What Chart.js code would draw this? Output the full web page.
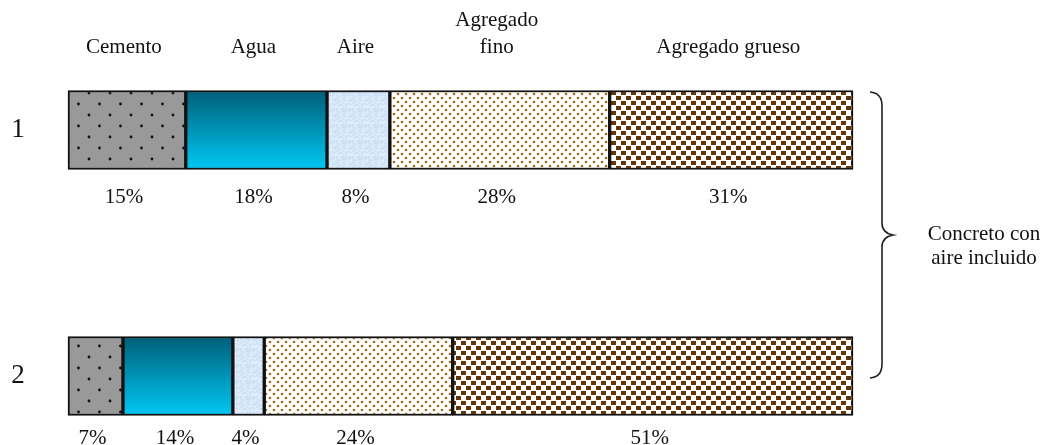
<!DOCTYPE html>
<html lang="es">
<head>
    <meta charset="UTF-8">
    <title>Concreto con aire incluido</title>
    <script src="https://cdn.jsdelivr.net/npm/chart.js"></script>
    <style>
        body { margin: 0; background: #fff; }
        #wrap { width: 1045px; height: 445px; position: relative; }
    </style>
</head>
<body>
    <div id="wrap"><canvas id="mixChart"></canvas></div>

    <script>
        // rows (mezclas) and the components of each, in % by volume
        const mezclas = ['1', '2'];
        const componentes = ['Cemento', 'Agua', 'Aire', 'Agregado fino', 'Agregado grueso'];
        const cabeceras = [['Cemento'], ['Agua'], ['Aire'], ['Agregado', 'fino'], ['Agregado grueso']];
        const cemento = [15, 7];
        const agua = [18, 14];
        const aire = [8, 4];
        const agregadoFino = [28, 24];
        const agregadoGrueso = [31, 51];
        const braceLabel = ['Concreto con', 'aire incluido'];

        const FONT = '"Liberation Serif", "Times New Roman", serif';

        function makeTile(w, h, draw) {
            const c = document.createElement('canvas');
            c.width = w; c.height = h;
            const g = c.getContext('2d');
            draw(g);
            return document.createElement('canvas').getContext('2d').createPattern(c, 'repeat');
        }

        // grey with black dots
        const cementoFill = makeTile(21, 22, g => {
            g.fillStyle = '#999999'; g.fillRect(0, 0, 21, 22);
            g.fillStyle = '#111';
            g.beginPath(); g.arc(5, 5, 1.4, 0, Math.PI * 2); g.fill();
            g.beginPath(); g.arc(15.5, 16, 1.4, 0, Math.PI * 2); g.fill();
        });

        // light blue, slightly mottled
        const aireFill = makeTile(16, 16, g => {
            g.fillStyle = '#d3e5f8'; g.fillRect(0, 0, 16, 16);
            for (let i = 0; i < 16; i++) {
                for (let j = 0; j < 16; j++) {
                    const v = Math.sin(i * 12.9898 + j * 78.233) * 43758.5453;
                    const f = v - Math.floor(v);
                    if (f > 0.7) { g.fillStyle = '#e4effb'; g.fillRect(i, j, 1, 1); }
                    else if (f < 0.15) { g.fillStyle = '#c6dcf3'; g.fillRect(i, j, 1, 1); }
                }
            }
        });

        // white with small golden dots
        const finoFill = makeTile(8, 8, g => {
            g.fillStyle = '#ffffff'; g.fillRect(0, 0, 8, 8);
            g.fillStyle = '#a26c15';
            g.beginPath(); g.arc(2, 2, 1.35, 0, Math.PI * 2); g.fill();
            g.beginPath(); g.arc(6, 6, 1.35, 0, Math.PI * 2); g.fill();
        });

        // white with dark brown squares
        const gruesoFill = makeTile(10, 10, g => {
            g.fillStyle = '#ffffff'; g.fillRect(0, 0, 10, 10);
            g.fillStyle = '#663505';
            g.fillRect(1, 1, 5, 4);
            g.fillRect(6, 6, 5, 4);
            g.fillRect(-4, 6, 5, 4);
        });

        const BAR_H = 79;

        // vertical teal gradient for each water bar
        function aguaFill(ctx) {
            const chart = ctx.chart;
            const y = chart.scales.y;
            if (!y || ctx.dataIndex === undefined) return '#0090b8';
            const cy = y.getPixelForValue(ctx.dataIndex);
            if (!isFinite(cy)) return '#0090b8';
            const grad = chart.ctx.createLinearGradient(0, cy - BAR_H / 2, 0, cy + BAR_H / 2);
            grad.addColorStop(0, '#005e78');
            grad.addColorStop(1, '#00c8f4');
            return grad;
        }

        const series = [cemento, agua, aire, agregadoFino, agregadoGrueso];
        const fills = [cementoFill, aguaFill, aireFill, finoFill, gruesoFill];

        const textPlugin = {
            id: 'textos',
            afterDatasetsDraw(chart) {
                const ctx = chart.ctx;
                ctx.save();
                ctx.fillStyle = '#111';
                ctx.textAlign = 'center';
                ctx.textBaseline = 'middle';

                // row numbers
                ctx.font = '27px ' + FONT;
                const m0 = chart.getDatasetMeta(0);
                mezclas.forEach((lab, j) => ctx.fillText(lab, 18, m0.data[j].y));

                // headers above first bar, percentages below each bar
                ctx.font = '21px ' + FONT;
                series.forEach((vals, i) => {
                    const meta = chart.getDatasetMeta(i);
                    const top = meta.data[0];
                    const cx0 = (top.x + top.base) / 2 - 3;
                    const lines = cabeceras[i];
                    lines.forEach((t, k) => {
                        ctx.fillText(t, cx0, top.y - BAR_H / 2 - 43 - (lines.length - 1 - k) * 27);
                    });
                    meta.data.forEach((bar, j) => {
                        const cx = (bar.x + bar.base) / 2 - 3;
                        const off = j === 0 ? 28 : 23;
                        ctx.fillText(vals[j] + '%', cx, bar.y + BAR_H / 2 + off);
                    });
                });

                // brace on the right
                const a = chart.chartArea;
                const bx = a.right + 17, top = a.top - 38, bot = a.bottom + 2;
                const mid = (top + bot) / 2;
                ctx.strokeStyle = '#222';
                ctx.lineWidth = 1.6;
                ctx.beginPath();
                ctx.moveTo(bx, top);
                ctx.quadraticCurveTo(bx + 12, top + 1, bx + 12, top + 14);
                ctx.lineTo(bx + 12, mid - 12);
                ctx.quadraticCurveTo(bx + 12, mid - 2, bx + 23, mid);
                ctx.quadraticCurveTo(bx + 12, mid + 2, bx + 12, mid + 12);
                ctx.lineTo(bx + 12, bot - 14);
                ctx.quadraticCurveTo(bx + 12, bot - 1, bx, bot);
                ctx.stroke();

                ctx.font = '21px ' + FONT;
                ctx.fillText(braceLabel[0], 984, mid - 1);
                ctx.fillText(braceLabel[1], 984, mid + 23);
                ctx.restore();
            }
        };

        new Chart(document.getElementById('mixChart'), {
            type: 'bar',
            data: {
                labels: mezclas,
                datasets: series.map((vals, i) => ({
                    label: componentes[i],
                    data: vals,
                    backgroundColor: fills[i],
                    borderColor: '#111',
                    borderWidth: 2,
                    borderSkipped: false,
                    barThickness: BAR_H,
                    clip: false
                }))
            },
            options: {
                indexAxis: 'y',
                responsive: true,
                maintainAspectRatio: false,
                animation: false,
                layout: { padding: { left: 68, right: 192, top: 130, bottom: 69 } },
                scales: {
                    x: { stacked: true, min: 0, max: 100, display: false },
                    y: { stacked: true, offset: false, display: false }
                },
                plugins: {
                    legend: { display: false },
                    tooltip: { enabled: false }
                }
            },
            plugins: [textPlugin]
        });
    </script>
</body>
</html>
